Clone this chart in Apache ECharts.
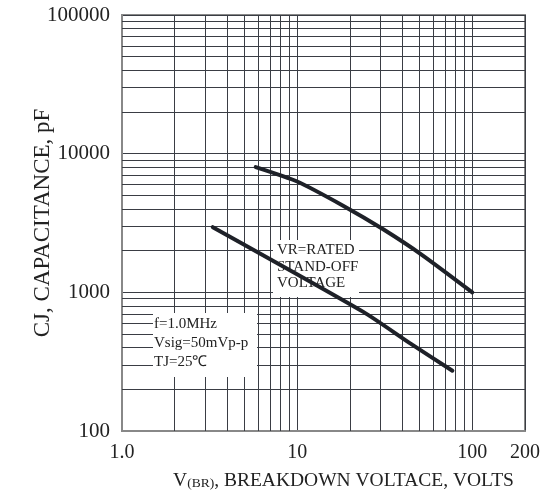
<!DOCTYPE html>
<html>
<head>
<meta charset="utf-8">
<style>
  html, body { margin: 0; padding: 0; background: #fff; }
  #chart { width: 556px; height: 497px; }
</style>
<script src="https://cdn.jsdelivr.net/npm/echarts@6.0.0/dist/echarts.min.js"></script>
</head>
<body>
<div id="chart"></div>
<script>
// curve data (volts, pF)
const upperVolts = [5.8, 10, 18.4, 31, 52, 100]
const upperCap = [8000, 6300, 4200, 2850, 1850, 1000]
const lowerVolts = [3.3, 24, 44, 77]
const lowerCap = [2950, 720, 430, 272]

// extra grid lines between the decades
const xMinorGrid = [2, 3, 4, 5, 6, 7, 8, 9, 20, 30, 40, 50, 60, 70, 80, 90]
const yMinorGrid = [
  200, 300, 400, 500, 600, 700, 800, 900,
  2000, 3000, 4000, 5000, 6000, 7000, 8000, 9000,
  20000, 30000, 40000, 50000, 60000, 70000, 80000, 90000,
]

const boxNote = ['VR=RATED', 'STAND-OFF', 'VOLTAGE']
const testNote = ['f=1.0MHz', 'Vsig=50mVp-p', 'TJ=25℃']

const serif = '"Liberation Serif", "Times New Roman", serif'
const ink = '#1e2128'
const gridInk = '#3a3d44'

const pairs = (xs, ys) => xs.map((x, i) => [x, ys[i]])

const chart = echarts.init(document.getElementById('chart'), null, { renderer: 'canvas' })

// white patch behind a note, then the note text
const noteBox = (left, top, w, h, lines, lineHeight, dx) => [
  {
    type: 'rect',
    left: left,
    top: top,
    z: 5,
    shape: { width: w, height: h },
    style: { fill: '#fff' },
  },
  {
    type: 'text',
    left: left + dx,
    top: top + 2,
    z: 6,
    style: {
      text: lines.join('\n'),
      font: '15px ' + serif,
      lineHeight: lineHeight,
      fill: '#222',
    },
  },
]

const option = {
  animation: false,
  backgroundColor: '#fff',
  grid: {
    left: 122,
    top: 15,
    right: 31,
    bottom: 66,
    show: true,
    borderColor: '#888',
    borderWidth: 2,
    backgroundColor: 'transparent',
  },
  xAxis: {
    type: 'log',
    logBase: 10,
    min: 1,
    max: 200,
    name: 'V{s|(BR)}, BREAKDOWN VOLTACE, VOLTS',
    nameLocation: 'middle',
    nameGap: 40,
    nameMoveOverlap: false,
    nameTextStyle: {
      fontFamily: serif,
      fontSize: 19.5,
      color: '#222',
      padding: [0, 0, 0, 40],
      rich: {
        s: { fontFamily: serif, fontSize: 13.5, color: '#222', padding: [5, 0, 0, 0] },
      },
    },
    axisLine: { show: true, lineStyle: { color: '#888', width: 2 } },
    axisTick: { show: false },
    axisLabel: {
      margin: 12,
      fontFamily: serif,
      fontSize: 20,
      color: '#222',
      showMinLabel: true,
      showMaxLabel: true,
      formatter: (v) => (v === 1 ? '1.0' : String(Math.round(v))),
    },
    splitLine: { show: true, lineStyle: { color: gridInk, width: 1 } },
  },
  yAxis: {
    type: 'log',
    logBase: 10,
    min: 100,
    max: 100000,
    name: 'CJ, CAPACITANCE, pF',
    nameLocation: 'middle',
    nameRotate: 90,
    nameGap: 68,
    nameMoveOverlap: false,
    nameTextStyle: { fontFamily: serif, fontSize: 23, color: '#222' },
    axisLine: { show: true, lineStyle: { color: '#888', width: 2 } },
    axisTick: { show: false },
    axisLabel: {
      margin: 12,
      fontFamily: serif,
      fontSize: 21,
      color: '#222',
      formatter: (v) => String(Math.round(v)),
    },
    splitLine: { show: true, lineStyle: { color: gridInk, width: 1 } },
  },
  graphic: [
    ...noteBox(273, 240, 86, 57, boxNote, 16.5, 4),
    ...noteBox(153, 313, 104, 64, testNote, 19, 1),
  ],
  series: [
    {
      // minor grid
      type: 'line',
      data: [],
      z: 1,
      silent: true,
      markLine: {
        z: 1,
        silent: true,
        symbol: 'none',
        animation: false,
        label: { show: false },
        lineStyle: { type: 'solid', color: gridInk, width: 1 },
        data: [
          ...xMinorGrid.map((v) => ({ xAxis: v })),
          ...yMinorGrid.map((v) => ({ yAxis: v })),
        ],
      },
    },
    {
      type: 'line',
      z: 10,
      data: pairs(upperVolts, upperCap),
      showSymbol: false,
      smooth: 0.2,
      lineStyle: { color: ink, width: 4, cap: 'round' },
    },
    {
      type: 'line',
      z: 10,
      data: pairs(lowerVolts, lowerCap),
      showSymbol: false,
      smooth: 0.2,
      lineStyle: { color: ink, width: 4, cap: 'round' },
    },
  ],
}

chart.setOption(option)
</script>
</body>
</html>
